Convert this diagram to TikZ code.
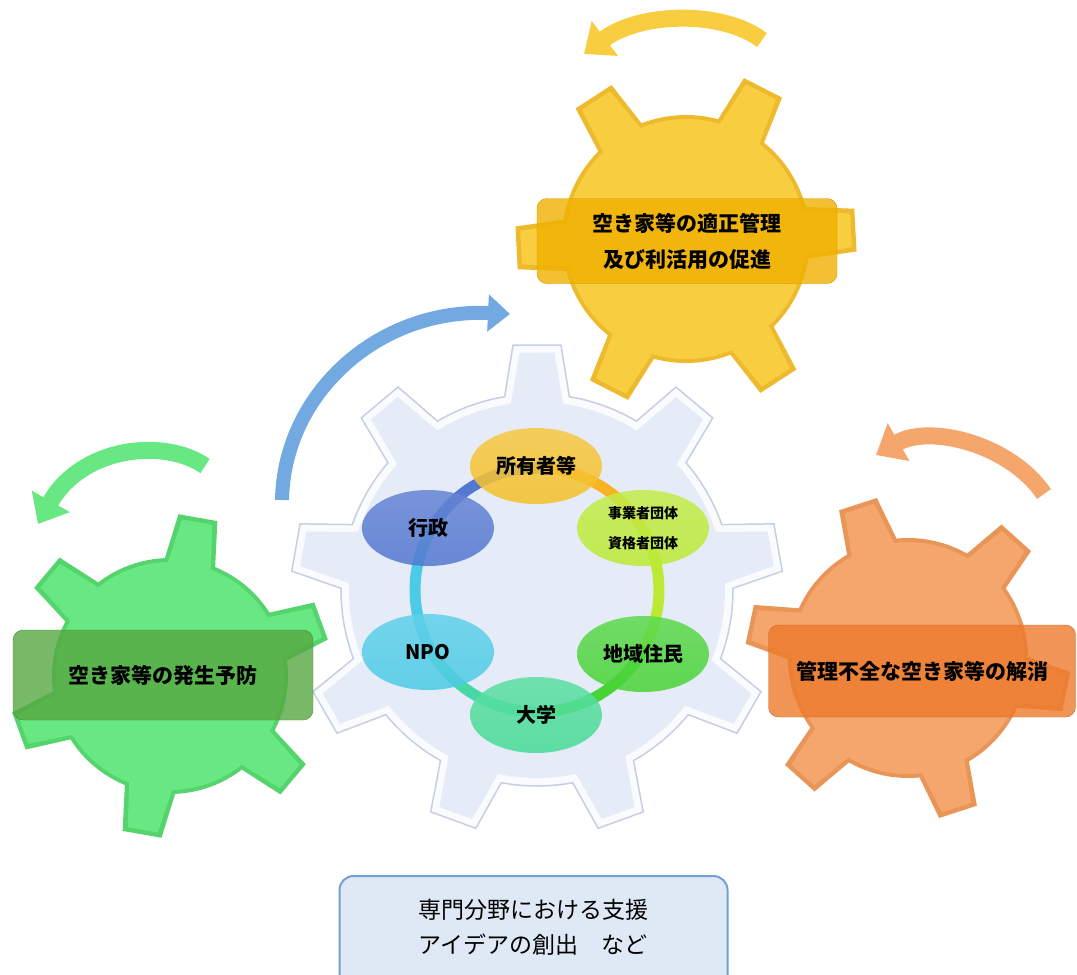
\documentclass[tikz,border=0pt]{standalone}
\usepackage{fontspec}
\setmainfont{Noto Sans CJK JP}
\usetikzlibrary{arrows.meta,shapes.geometric}

\definecolor{gearrim}{HTML}{C6CEE3}
\definecolor{gearwhite}{HTML}{FAFBFE}
\definecolor{gearin}{HTML}{E6EBF8}
\definecolor{yelA}{HTML}{EDBA2E}
\definecolor{yelB}{HTML}{F9CD40}
\definecolor{grnA}{HTML}{55D46E}
\definecolor{grnB}{HTML}{68E882}
\definecolor{orgA}{HTML}{E99558}
\definecolor{orgB}{HTML}{F4A66C}
\definecolor{blueArr}{HTML}{72A9E0}
\definecolor{yelBox}{HTML}{F0B000}
\definecolor{grnBox}{HTML}{56A842}
\definecolor{orgBox}{HTML}{EC7A2C}
\definecolor{cOwn}{HTML}{F5C028}
\definecolor{cGov}{HTML}{5478D0}
\definecolor{cBiz}{HTML}{BBEA34}
\definecolor{cNpo}{HTML}{4CCBE6}
\definecolor{cRes}{HTML}{48D436}
\definecolor{cUni}{HTML}{46DB96}
\definecolor{boxFill}{HTML}{DFE9F6}
\definecolor{boxLine}{HTML}{72A0D2}

% gear: #1 options, #2 cx, #3 cy, #4 teeth, #5 offset angle, #6 body r, #7 tip r, #8 base half-angle, #9 tip half-angle
\newcommand{\gear}[9]{%
  \pgfmathsetmacro\gstep{360/#4}%
  \pgfmathsetmacro\gn{#4-1}%
  \path[#1] ({#2+#6*cos(#5-#8)},{#3+#6*sin(#5-#8)})
    \foreach \k in {0,...,\gn}{
      -- ({#2+#7*cos(#5+\k*\gstep-#9)},{#3+#7*sin(#5+\k*\gstep-#9)})
      -- ({#2+#7*cos(#5+\k*\gstep+#9)},{#3+#7*sin(#5+\k*\gstep+#9)})
      -- ({#2+#6*cos(#5+\k*\gstep+#8)},{#3+#6*sin(#5+\k*\gstep+#8)})
      \foreach \j in {1,...,12}{
        -- ({#2+#6*cos(#5+\k*\gstep+#8+\j*(\gstep-2*#8)/12)},{#3+#6*sin(#5+\k*\gstep+#8+\j*(\gstep-2*#8)/12)})
      }
    } -- cycle;
}

\begin{document}
\begin{tikzpicture}[x=1pt,y=-1pt,
  ell/.style={ellipse, minimum width=132pt, minimum height=76pt, inner sep=0pt,
    fill opacity=0.86, text opacity=1, font=\bfseries\fontsize{20}{24}\selectfont},
  ringseg/.style={line width=11pt, line cap=round},
  gearbox/.style={rounded corners=10pt, fill opacity=0.8, text opacity=1,
    font=\bfseries\fontsize{21}{36}\selectfont, align=center, inner sep=0pt},
  rotarrow/.style={line width=17pt, -{Triangle[width=42pt,length=26pt]}}
]
\useasboundingbox (0,0) rectangle (1077,975);

% ---------- central gear ----------
\gear{fill=gearwhite, draw=gearrim, line width=1.5pt}{537}{590}{9}{-90}{196}{246}{9.5}{5.6}
\gear{fill=gearin}{537}{590}{9}{-90}{188}{238}{8}{4.2}

% ring
\draw[ringseg, color=cOwn!80!orange] plot[domain=-90:-30, samples=20] ({537+122*cos(\x)},{590+122*sin(\x)});
\draw[ringseg, color=cBiz] plot[domain=-30:30, samples=20] ({537+122*cos(\x)},{590+122*sin(\x)});
\draw[ringseg, color=cRes] plot[domain=30:90, samples=20] ({537+122*cos(\x)},{590+122*sin(\x)});
\draw[ringseg, color=cUni!80!cNpo] plot[domain=90:150, samples=20] ({537+122*cos(\x)},{590+122*sin(\x)});
\draw[ringseg, color=cNpo] plot[domain=150:210, samples=20] ({537+122*cos(\x)},{590+122*sin(\x)});
\draw[ringseg, color=cGov] plot[domain=210:270, samples=20] ({537+122*cos(\x)},{590+122*sin(\x)});

% member ellipses
\node[ell, top color=cOwn!88!white, bottom color=cOwn] (own) at (536,466) {所有者等};
\node[ell, top color=cGov!90!white, bottom color=cGov] (gov) at (428,528) {行政};
\node[ell, top color=cBiz!88!white, bottom color=cBiz, font=\bfseries\fontsize{14}{30}\selectfont, align=center] (biz) at (643,528) {事業者団体\\資格者団体};
\node[ell, top color=cNpo!88!white, bottom color=cNpo] (npo) at (428,652) {NPO};
\node[ell, top color=cRes!88!white, bottom color=cRes] (res) at (643,654) {地域住民};
\node[ell, top color=cUni!88!white, bottom color=cUni] (uni) at (536,715) {大学};

% ---------- yellow gear ----------
\gear{fill=yelA}{686}{239}{6}{-3}{124}{171}{12}{7.2}
\gear{fill=yelB}{686}{239}{6}{-3}{120}{166}{10.6}{5.8}
\node[gearbox, fill=yelBox, draw=yelBox!85!black, minimum width=300pt, minimum height=85pt] (ybox) at (687,241)
  {空き家等の適正管理\\及び利活用の促進};

% ---------- green gear ----------
\gear{fill=grnA}{170}{676}{6}{-20}{118}{162}{12.5}{7}
\gear{fill=grnB}{170}{676}{6}{-20}{114}{157}{11}{5.6}
\node[gearbox, fill=grnBox, draw=grnBox!85!black, minimum width=300pt, minimum height=90pt] (gbox) at (163,675)
  {空き家等の発生予防};

% ---------- orange gear ----------
\gear{fill=orgA}{908}{658}{6}{12}{120}{163}{12.5}{7}
\gear{fill=orgB}{908}{658}{6}{12}{116}{158}{11}{5.6}
\node[gearbox, fill=orgBox, draw=orgBox!85!black, minimum width=307pt, minimum height=92pt] (obox) at (922,671)
  {管理不全な空き家等の解消};

% ---------- rotation arrows ----------
\coordinate (ya1) at (762,40);
\coordinate (ya2) at (584,54);
\draw[rotarrow, color=yelB] (ya1) .. controls (722,10) and (640,12) .. (ya2);
\coordinate (ga1) at (205,466);
\coordinate (ga2) at (38,524);
\draw[rotarrow, color=grnB] (ga1) .. controls (165,438) and (82,446) .. (ga2);
\coordinate (oa1) at (1044,494);
\coordinate (oa2) at (876,455);
\draw[rotarrow, color=orgB] (oa1) .. controls (1010,444) and (930,424) .. (oa2);
\coordinate (ba1) at (282,500);
\coordinate (ba2) at (510,314);
\draw[line width=14pt, color=blueArr, -{Triangle[width=36pt,length=22pt]}] (ba1) .. controls (284,392) and (380,308) .. (ba2);

% ---------- bottom box ----------
\node[draw=boxLine, line width=2pt, fill=boxFill, rounded corners=14pt, minimum width=388pt, minimum height=116pt] (bbox) at (533.5,934) {};
\node[font=\fontsize{23}{35}\selectfont, align=center] (btxt) at (533,927) {専門分野における支援\\アイデアの創出　など};
\end{tikzpicture}
\end{document}
